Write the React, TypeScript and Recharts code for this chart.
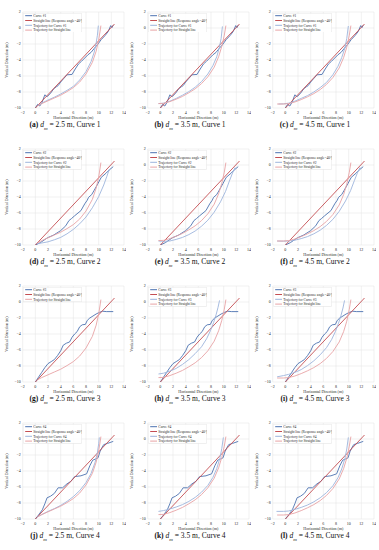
import { LineChart, Line, XAxis, YAxis, CartesianGrid, Legend } from 'recharts';

const xTicks = [-2, 0, 2, 4, 6, 8, 10, 12, 14];
const yTicks = [-10, -8, -6, -4, -2, 0, 2];

// [x, y] in metres
const straightLine = [[0, -10], [12.5, 0.5]];

const curve1 = [
  [0, -10], [0.35, -9.55], [0.7, -9.75], [1.05, -9.3], [1.5, -8.35], [1.85, -8.6], [2.4, -8.15],
  [2.9, -7.6], [3.3, -7.35], [3.6, -7.2], [4.0, -6.75], [4.5, -6.3], [5.0, -5.85], [5.8, -5.8],
  [6.2, -5.25], [6.8, -4.5], [7.3, -4.15], [7.8, -3.75], [8.3, -3.35], [8.8, -3.05], [9.3, -2.55],
  [9.8, -2.1], [10.4, -1.45], [11.0, -0.95], [11.5, -0.45], [11.9, 0.3], [12.1, 0.05], [12.3, 0.35],
];
const curve2 = [
  [0, -10], [0.8, -9.7], [1.9, -9.1], [2.9, -8.75], [4.0, -8.2], [4.8, -7.6], [5.3, -6.95],
  [5.7, -6.7], [6.2, -6.35], [7.2, -5.7], [7.8, -4.85], [8.2, -4.4], [8.4, -4.05], [8.9, -3.7],
  [9.3, -3.15], [9.9, -2.3], [10.4, -1.55], [11.2, -1.0], [11.7, -0.6], [12.3, -0.2],
];
const curve3 = [
  [0, -10], [0.5, -9.4], [1.0, -8.8], [1.5, -8.2], [2.0, -7.7], [2.5, -7.45], [3.0, -7.2],
  [3.5, -6.7], [4.0, -6.1], [4.4, -5.4], [4.9, -5.15], [5.4, -5.0], [5.8, -4.4], [6.2, -4.0],
  [6.6, -3.7], [7.0, -3.1], [7.4, -2.85], [7.9, -2.8], [8.2, -2.3], [8.6, -2.0], [9.1, -1.75],
  [9.6, -1.5], [10.1, -1.3], [10.6, -1.15], [11.2, -1.2], [12.3, -1.2],
];
const curve4 = [
  [0, -10], [0.5, -9.5], [1.1, -8.85], [1.5, -8.1], [1.85, -7.35], [2.4, -7.15], [3.0, -6.8],
  [3.6, -6.1], [4.3, -6.1], [5.0, -5.6], [5.6, -5.3], [6.2, -4.7], [7.2, -4.6], [8.1, -4.35],
  [8.6, -3.35], [9.05, -2.65], [9.5, -2.5], [9.9, -2.35], [10.2, -1.6], [10.5, -1.1], [10.8, -0.7],
  [11.4, -0.55], [12.3, -0.3],
];

const trajStraight25 = [
  [0.4, -9.7], [1, -9.45], [2, -9.1], [3, -8.75], [4, -8.4], [5, -7.95], [6, -7.45], [7, -6.75],
  [8, -5.75], [9, -4.3], [9.6, -2.9], [10.0, -1.5], [10.2, -0.5], [10.35, 0.3],
];
const trajStraight35 = [
  [-0.3, -9.45], [0.5, -9.42], [1.5, -9.2], [2.5, -8.9], [3.5, -8.55], [4.5, -8.1], [5.5, -7.6],
  [6.5, -6.95], [7.5, -6.1], [8.5, -4.9], [9.2, -3.6], [9.7, -2.3], [10.1, -0.9], [10.35, 0.3],
];
const trajStraight45 = [
  [-1.3, -9.5], [-0.3, -9.5], [0.5, -9.45], [1.5, -9.25], [2.5, -8.95], [3.5, -8.6], [4.5, -8.2],
  [5.5, -7.7], [6.5, -7.05], [7.5, -6.2], [8.5, -5.0], [9.2, -3.7], [9.7, -2.4], [10.1, -0.9],
  [10.35, 0.3],
];

const trajCurveA = [
  [0.4, -9.7], [1, -9.4], [2, -9.0], [3, -8.65], [4, -8.25], [5, -7.8], [6, -7.3], [7, -6.5],
  [8, -5.45], [8.8, -4.2], [9.3, -3.0], [9.6, -1.9], [9.8, -0.9], [9.95, 0.3],
];
const trajCurveB = [
  [-0.3, -9.45], [0.5, -9.4], [1.5, -9.15], [2.5, -8.8], [3.5, -8.4], [4.5, -7.95], [5.5, -7.4],
  [6.5, -6.7], [7.5, -5.75], [8.3, -4.7], [8.9, -3.6], [9.3, -2.5], [9.6, -1.3], [9.8, 0.2],
];
const trajCurveC = [
  [-1.1, -9.5], [-0.3, -9.48], [0.5, -9.4], [1.5, -9.15], [2.5, -8.8], [3.5, -8.45], [4.5, -8.0],
  [5.5, -7.45], [6.5, -6.8], [7.5, -5.85], [8.3, -4.8], [8.9, -3.7], [9.4, -2.5], [9.7, -1.3],
  [9.95, 0.25],
];
const trajCurveD = [
  [0.3, -9.85], [1, -9.75], [2, -9.6], [3, -9.35], [4, -9.05], [5, -8.6], [6, -8.05], [7, -7.35],
  [8, -6.5], [9, -5.35], [10, -3.95], [10.8, -2.5], [11.3, -1.4], [11.7, -0.5],
];
const trajCurveE = [
  [-0.3, -9.5], [0.5, -9.55], [1.5, -9.5], [2.5, -9.3], [3.5, -9.05], [4.5, -8.7], [5.5, -8.25],
  [6.5, -7.65], [7.5, -6.9], [8.5, -5.9], [9.5, -4.6], [10.3, -3.3], [10.9, -2.0], [11.4, -1.0],
  [11.8, -0.3],
];
const trajCurveF = [
  [-1.3, -9.5], [-0.3, -9.52], [0.5, -9.5], [1.5, -9.4], [2.5, -9.2], [3.5, -8.95], [4.5, -8.6],
  [5.5, -8.15], [6.5, -7.55], [7.5, -6.8], [8.5, -5.8], [9.5, -4.5], [10.3, -3.2], [10.9, -1.95],
  [11.4, -0.95], [11.8, -0.3],
];
const trajCurveH = [
  [-0.3, -9.0], [0.5, -8.9], [1.5, -8.65], [2.5, -8.3], [3.5, -7.8], [4.5, -7.2], [5.5, -6.45],
  [6.5, -5.6], [7.3, -4.6], [7.9, -3.6], [8.4, -2.6], [8.8, -1.6], [9.1, -0.7], [9.35, 0.2],
];
const trajCurveI = [
  [-1.3, -9.35], [-0.3, -9.2], [0.5, -9.05], [1.5, -8.8], [2.5, -8.45], [3.5, -7.95], [4.5, -7.35],
  [5.5, -6.6], [6.5, -5.7], [7.3, -4.7], [7.9, -3.7], [8.4, -2.65], [8.8, -1.65], [9.1, -0.75],
  [9.35, 0.2],
];
const trajCurveJ = [
  [0.3, -9.75], [1, -9.45], [2, -9.05], [3, -8.7], [4, -8.3], [5, -7.8], [6, -7.2], [7, -6.45],
  [8, -5.45], [8.8, -4.3], [9.4, -3.0], [9.8, -1.7], [10.0, -0.6], [10.1, 0.2],
];
const trajCurveK = [
  [-0.3, -9.05], [0.5, -8.95], [1.5, -8.75], [2.5, -8.5], [3.5, -8.2], [4.5, -7.8], [5.5, -7.3],
  [6.5, -6.65], [7.5, -5.8], [8.3, -4.8], [8.9, -3.7], [9.4, -2.4], [9.7, -1.2], [9.95, 0.2],
];
const trajCurveL = [
  [-1.4, -9.05], [-0.3, -9.05], [0.5, -9.0], [1.5, -8.8], [2.5, -8.55], [3.5, -8.25], [4.5, -7.85],
  [5.5, -7.35], [6.5, -6.7], [7.5, -5.85], [8.3, -4.85], [8.9, -3.75], [9.4, -2.45], [9.7, -1.25],
  [9.95, 0.2],
];

const panels = [
  { id: 'a', dm: '2.5', no: 1, curve: curve1, trajCurve: trajCurveA, trajStraight: trajStraight25 },
  { id: 'b', dm: '3.5', no: 1, curve: curve1, trajCurve: trajCurveB, trajStraight: trajStraight35 },
  { id: 'c', dm: '4.5', no: 1, curve: curve1, trajCurve: trajCurveC, trajStraight: trajStraight45 },
  { id: 'd', dm: '2.5', no: 2, curve: curve2, trajCurve: trajCurveD, trajStraight: trajStraight25 },
  { id: 'e', dm: '3.5', no: 2, curve: curve2, trajCurve: trajCurveE, trajStraight: trajStraight35 },
  { id: 'f', dm: '4.5', no: 2, curve: curve2, trajCurve: trajCurveF, trajStraight: trajStraight45 },
  { id: 'g', dm: '2.5', no: 3, curve: curve3, trajCurve: null, trajStraight: trajStraight25 },
  { id: 'h', dm: '3.5', no: 3, curve: curve3, trajCurve: trajCurveH, trajStraight: trajStraight35 },
  { id: 'i', dm: '4.5', no: 3, curve: curve3, trajCurve: trajCurveI, trajStraight: trajStraight45 },
  { id: 'j', dm: '2.5', no: 4, curve: curve4, trajCurve: trajCurveJ, trajStraight: trajStraight25 },
  { id: 'k', dm: '3.5', no: 4, curve: curve4, trajCurve: trajCurveK, trajStraight: trajStraight35 },
  { id: 'l', dm: '4.5', no: 4, curve: curve4, trajCurve: trajCurveL, trajStraight: trajStraight45 },
];

const plotTops = [11.7, 149, 286, 423.3];
const serif = '"Liberation Serif", "DejaVu Serif", serif';
const ink = '#262626';

const pts = (a: number[][]) => a.map(([x, y]) => ({ x, y }));
const fmt = (v: number) => String(v).replace('-', '\u2212');

const LegendBox = ({ payload }: any) => {
  const items = payload ?? [];
  const h = 5.4 + (items.length - 1) * 4.8;
  return (
    <svg width={59} height={h} style={{ display: 'block' }}>
      <rect x={0.3} y={0.3} width={58.4} height={h - 0.6} rx={0.8} fill='#fff' fillOpacity={0.85} stroke='#d6d6d6' strokeWidth={0.4} />
      {items.map((it: any, i: number) => {
        const cy = 2.7 + i * 4.8;
        return (
          <g key={i}>
            <line x1={2.2} x2={9} y1={cy} y2={cy} stroke={it.color} strokeWidth={1} />
            <text x={10.3} y={cy + 1.2} fontSize={3.5} fontFamily={serif} fill={ink}>
              {it.value}
            </text>
          </g>
        );
      })}
    </svg>
  );
};

const Panel = ({ p, col, row }: any) => {
  const top = plotTops[row];
  const left = col * 125;
  const tick = { fontSize: 4, fill: ink, fontFamily: serif };
  return (
    <>
      <div style={{ position: 'absolute', left, top: top - 10 }}>
        <LineChart width={126} height={122} margin={{ top: 10, right: 2, bottom: 0, left: 0 }}>
          <CartesianGrid stroke='#e2e2e2' strokeWidth={0.5} />
          <XAxis
            type='number'
            dataKey='x'
            domain={[-2, 14]}
            ticks={xTicks}
            interval={0}
            allowDataOverflow
            tickLine={false}
            axisLine={false}
            tickSize={2}
            tickMargin={1}
            height={16}
            tick={tick}
            tickFormatter={fmt}
            label={{ value: 'Horizontal Direction (m)', position: 'insideBottom', offset: 4.6, fontSize: 4, fill: ink, fontFamily: serif }}
          />
          <YAxis
            type='number'
            domain={[-10, 2]}
            ticks={yTicks}
            interval={0}
            allowDataOverflow
            tickLine={false}
            axisLine={false}
            tickSize={1}
            tickMargin={1}
            width={22.7}
            tick={tick}
            tickFormatter={fmt}
            label={{ value: 'Vertical Direction (m)', angle: -90, position: 'insideLeft', offset: 7, fontSize: 4, fill: ink, fontFamily: serif, style: { textAnchor: 'middle' } }}
          />
          <Legend
            layout='vertical'
            align='center'
            verticalAlign='middle'
            wrapperStyle={{ left: 23.2, top: 11, width: 59 }}
            content={(props: any) => <LegendBox payload={props.payload} />}
          />
          <Line data={pts(p.curve)} dataKey='y' name={`Curve #${p.no}`} type='linear' stroke='#4c72b0' strokeWidth={0.9} dot={false} isAnimationActive={false} />
          <Line data={pts(straightLine)} dataKey='y' name='Straight line (Response angle=40°)' type='linear' stroke='#c44e52' strokeWidth={0.9} dot={false} isAnimationActive={false} />
          {p.trajCurve && (
            <Line data={pts(p.trajCurve)} dataKey='y' name={`Trajectory for Curve #${p.no}`} type='linear' stroke='#9db4dc' strokeWidth={0.9} dot={false} isAnimationActive={false} />
          )}
          <Line data={pts(p.trajStraight)} dataKey='y' name='Trajectory for Straight line' type='linear' stroke='#e8a3a5' strokeWidth={0.9} dot={false} isAnimationActive={false} />
        </LineChart>
      </div>
      <div
        style={{
          position: 'absolute',
          left: left + 2,
          width: 126,
          top: top + 108,
          height: 10,
          lineHeight: '10px',
          textAlign: 'center',
          fontFamily: serif,
          fontSize: 7.5,
          color: '#111',
          whiteSpace: 'nowrap',
        }}
      >
        <b>({p.id})</b> <i>d</i>
        <sub style={{ fontSize: 5, lineHeight: 0, fontStyle: 'italic' }}>m</sub> = {p.dm} m, Curve {p.no}
      </div>
    </>
  );
};

const App = () => (
  <div style={{ position: 'absolute', left: 0, top: 0, width: 379, height: 550, background: '#fff' }}>
    {panels.map((p, i) => (
      <Panel key={p.id} p={p} col={i % 3} row={Math.floor(i / 3)} />
    ))}
  </div>
);

export default App;
